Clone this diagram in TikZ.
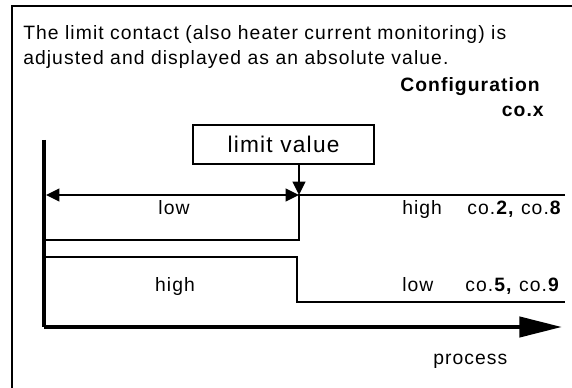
\documentclass[tikz,border=0pt]{standalone}
\usepackage{fontspec}
\setmainfont{Liberation Sans}
\newfontfamily\lbl[LetterSpace=5.5]{Liberation Sans}
\usetikzlibrary{arrows.meta}
\begin{document}
\begin{tikzpicture}[x=0.75pt,y=-0.75pt,
  >={Triangle[length=10pt,width=9.5pt]},
  txt/.style={inner sep=0pt,font=\lbl\fontsize{14.5}{17}\selectfont},
  btxt/.style={inner sep=0pt,font=\lbl\fontsize{14.5}{17}\selectfont\bfseries},
  frame/.style={line width=1.5pt},
  axis/.style={line width=3.2pt},
  sig/.style={line width=1.2pt},
  box/.style={draw,line width=1.2pt,minimum width=181*0.75pt,minimum height=39*0.75pt,inner sep=0pt,font=\lbl\fontsize{17}{19}\selectfont}]
\useasboundingbox (0,0) rectangle (572,388);
\draw[frame] (11.5,388) -- (11.5,6.5) -- (572,6.5);
% heading text
\node[txt,anchor=base west] (t1) at (23,40) {The limit contact (also heater current monitoring) is};
\node[txt,anchor=base west] (t2) at (23,65) {adjusted and displayed as an absolute value.};
\node[btxt,anchor=base east] (cfg) at (540,92) {Configuration};
\node[btxt,anchor=base east] (cox) at (544,117) {co.x};
% axes
\coordinate (ytop) at (44,140);
\coordinate (orig) at (44,327);
\coordinate (xend) at (562,327);
\draw[axis] (ytop) -- (orig);
\draw[axis,-{Triangle[length=32pt,width=15pt]}] (orig) -- (xend);
\node[txt,anchor=base west] (proc) at (433,365) {process};
% limit value
\node[box] (lim) at (283.5,144.5) {limit value};
\coordinate (lp) at (299,195);
\coordinate (la) at (46,195);
\draw[sig,->] (lim.south -| lp) -- (lp);
\draw[sig,<->] (la) -- (lp);
% upper signal
\coordinate (u1) at (565,195);
\coordinate (u2) at (299,240);
\coordinate (u3) at (46,240);
\draw[sig] (u1) -- (lp) -- (u2) -- (u3);
\node[txt,anchor=base] (low1) at (174,215) {low};
\node[txt,anchor=base west] (hi1) at (402,215) {high\hspace{19pt}co.\textbf{2,} co.\textbf{8}};
% lower signal
\coordinate (v1) at (46,257);
\coordinate (v2) at (297,257);
\coordinate (v3) at (297,302);
\coordinate (v4) at (565,302);
\draw[sig] (v1) -- (v2) -- (v3) -- (v4);
\node[txt,anchor=base] (hi2) at (175,292) {high};
\node[txt,anchor=base west] (low2) at (402,292) {low\hspace{24pt}co.\textbf{5,} co.\textbf{9}};
\end{tikzpicture}
\end{document}
